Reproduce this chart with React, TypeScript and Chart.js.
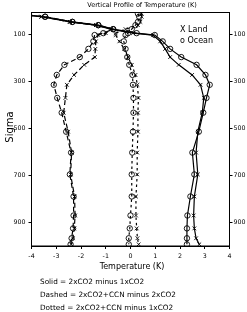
import React, { useEffect, useRef } from "react";
import { Chart, registerables } from "chart.js";
Chart.register(...registerables);

const sigmaLevels = [10, 23, 45, 59, 76, 93, 101, 128, 160, 195, 228, 271, 313, 369, 432, 513, 602, 695, 789, 870, 925, 967, 993];

const solidLand = [-4.8, -3.6, -2.45, -1.4, -0.8, 0.1, 0.9, 1.2, 1.4, 1.6, 1.95, 2.49, 2.83, 2.96, 2.9, 2.72, 2.65, 2.72, 2.58, 2.55, 2.58, 2.65, 2.78];
const solidOcean = [-4.7, -3.45, -2.35, -1.3, -0.7, 0.25, 0.98, 1.3, 1.6, 2.05, 2.67, 3.03, 3.2, 3.07, 2.94, 2.76, 2.5, 2.58, 2.42, 2.3, 2.28, 2.28, 2.28];
const dashedLand = [-4.8, -3.6, -2.45, -1.4, -0.8, -1.0, -1.3, -1.4, -1.42, -1.44, -1.87, -2.28, -2.57, -2.63, -2.7, -2.52, -2.38, -2.42, -2.26, -2.24, -2.27, -2.33, -2.4];
const dashedOcean = [-4.7, -3.45, -2.35, -1.3, -0.7, -1.1, -1.45, -1.5, -1.7, -2.05, -2.67, -2.98, -3.1, -2.96, -2.78, -2.6, -2.4, -2.45, -2.3, -2.3, -2.32, -2.38, -2.42];
const dottedLand = [0.45, 0.45, 0.4, 0.3, -0.2, -0.6, -0.6, -0.45, -0.25, -0.1, 0.05, 0.2, 0.28, 0.32, 0.3, 0.3, 0.27, 0.27, 0.22, 0.22, 0.25, 0.28, 0.33];
const dottedOcean = [0.3, 0.35, 0.3, 0.2, 0.05, -0.1, -0.2, -0.27, -0.2, -0.13, -0.05, 0.08, 0.1, 0.12, 0.12, 0.1, 0.07, 0.05, 0.05, 0.0, -0.03, -0.07, -0.07];

const sigmaTicks = [100, 300, 500, 700, 900];

const titleText = "Vertical Profile of Temperature (K)";
const xTitle = "Temperature (K)";
const yTitle = "Sigma";
const legendLines = ["X Land", "o Ocean"];
const captions = [
  "Solid = 2xCO2 minus 1xCO2",
  "Dashed = 2xCO2+CCN minus 2xCO2",
  "Dotted = 2xCO2+CCN minus 1xCO2",
];

const FONT = "'DejaVu Sans', sans-serif";

function pts(vals: number[]) {
  return sigmaLevels.map((s, i) => ({ x: vals[i], y: s }));
}

function ds(label: string, vals: number[], dash: number[], land: boolean) {
  return {
    label,
    data: pts(vals),
    showLine: true,
    borderColor: "#000",
    borderWidth: 1.2,
    borderDash: dash,
    pointStyle: land ? "crossRot" : "circle",
    pointRadius: land ? 2.6 : 2.7,
    pointBorderColor: "#000",
    pointBackgroundColor: "rgba(0,0,0,0)",
    pointBorderWidth: 0.9,
    fill: false,
    tension: 0,
  };
}

export default function App() {
  const ref = useRef<HTMLCanvasElement | null>(null);

  useEffect(() => {
    if (!ref.current) return;
    const textPlugin = {
      id: "texts",
      afterDraw(chart: any) {
        const ctx = chart.ctx;
        const a = chart.chartArea;
        ctx.save();
        ctx.strokeStyle = "#000";
        ctx.lineWidth = 1;
        ctx.strokeRect(a.left, a.top, a.right - a.left, a.bottom - a.top);
        ctx.fillStyle = "#000";
        ctx.textBaseline = "middle";
        ctx.textAlign = "center";
        ctx.font = `6.5px ${FONT}`;
        ctx.fillText(titleText, 142, 5);
        ctx.font = `8px ${FONT}`;
        ctx.fillText(xTitle, 132, 267);
        ctx.save();
        ctx.translate(10, 127);
        ctx.rotate(-Math.PI / 2);
        ctx.font = `10px ${FONT}`;
        ctx.fillText(yTitle, 0, 0);
        ctx.restore();
        ctx.textAlign = "left";
        ctx.font = `8px ${FONT}`;
        ctx.fillText(legendLines[0], 180, 30);
        ctx.fillText(legendLines[1], 180, 41);
        ctx.font = `7.3px ${FONT}`;
        ctx.fillText(captions[0], 40, 282);
        ctx.fillText(captions[1], 40, 295);
        ctx.fillText(captions[2], 40, 308);
        ctx.restore();
      },
    };

    const yCommon = (pos: string, width: number, pad: number) => ({
      type: "linear",
      position: pos,
      reverse: true,
      min: 5,
      max: 1000,
      afterBuildTicks: (s: any) => {
        s.ticks = sigmaTicks.map((v) => ({ value: v }));
      },
      afterFit: (s: any) => {
        s.width = width;
      },
      ticks: { font: { size: 6.3, family: FONT }, color: "#000", padding: pad },
      grid: { drawOnChartArea: false, drawTicks: true, tickLength: 3, color: "#000" },
      border: { display: true, color: "#000", width: 1 },
    });

    const chart = new Chart(ref.current, {
      type: "scatter",
      data: {
        datasets: [
          ds("Solid Land", solidLand, [], true),
          ds("Solid Ocean", solidOcean, [], false),
          ds("Dashed Land", dashedLand, [5, 3], true),
          ds("Dashed Ocean", dashedOcean, [5, 3], false),
          ds("Dotted Land", dottedLand, [2.5, 3], true),
          ds("Dotted Ocean", dottedOcean, [2.5, 3], false),
        ] as any,
      },
      options: {
        animation: false,
        responsive: false,
        maintainAspectRatio: false,
        layout: { padding: { top: 12.5, left: 0, right: 0, bottom: 0 } },
        plugins: { legend: { display: false }, tooltip: { enabled: false }, title: { display: false } },
        scales: {
          x: {
            type: "linear",
            position: "bottom",
            min: -4,
            max: 4,
            afterFit: (s: any) => {
              s.height = 66;
            },
            ticks: { stepSize: 1, font: { size: 6.3, family: FONT }, color: "#000", padding: 4 },
            grid: { drawOnChartArea: false, drawTicks: true, tickLength: 3, color: "#000" },
            border: { display: true, color: "#000", width: 1 },
          },
          y: yCommon("left", 31.5, 3),
          y2: yCommon("right", 17.5, 1),
        } as any,
      },
      plugins: [textPlugin],
    });
    return () => chart.destroy();
  }, []);

  return (
    <div style={{ position: "absolute", left: 0, top: 0, width: 247, height: 312, background: "#fff" }}>
      <canvas ref={ref} width={247} height={312} style={{ width: 247, height: 312, display: "block" }} />
    </div>
  );
}
